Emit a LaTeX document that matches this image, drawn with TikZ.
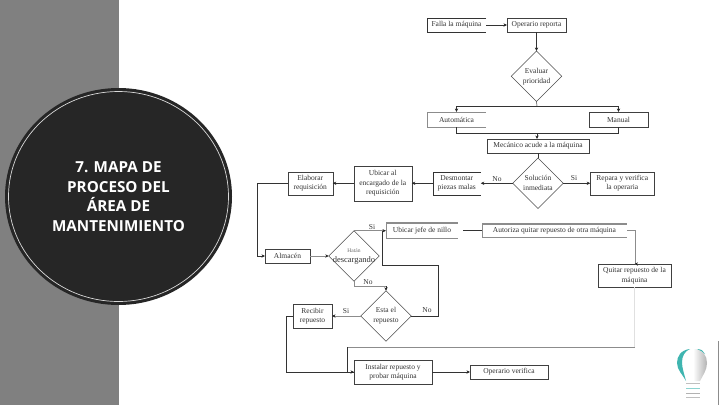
\documentclass[tikz,border=0pt]{standalone}
\usepackage{fontspec}
\setmainfont{Liberation Serif}
\newfontfamily\titlefont{Open Sans}
\usetikzlibrary{arrows.meta,shapes.geometric,positioning,calc}
\definecolor{bandgray}{HTML}{808080}
\definecolor{diskdark}{HTML}{262626}
\definecolor{linegray}{HTML}{8C8C8C}
\definecolor{bulbteal}{HTML}{3FB5B0}

\begin{document}
\begin{tikzpicture}[
    x=1pt, y=-1pt,
    box/.style={draw=black!75, minimum width=#1, align=center, font=\fontsize{7.5}{9.5}\selectfont,
                inner sep=1pt, outer sep=0pt, line width=0.5pt, text=black!80},
    box/.default=58pt,
    openbox/.style={box=#1, draw=none},
    choice/.style={diamond, draw=black!70, minimum width=50.5pt, minimum height=50.5pt, aspect=1,
                align=center, inner sep=0pt, outer sep=0pt, font=\fontsize{7.5}{10}\selectfont, line width=0.4pt, text=black!80},
    arr/.style={-{Stealth[length=3.5pt,width=3.2pt,color=black!85]}, black!80, line width=0.5pt},
    flat/.style={black!80, line width=0.5pt},
    faint/.style={linegray, line width=0.6pt},
    lbl/.style={font=\fontsize{7.5}{8}\selectfont, text=black!80, inner sep=0pt}
]
\useasboundingbox (0,0) rectangle (720,405);
\fill[white] (0,0) rectangle (720,405);
\fill[bandgray] (0,0) rectangle (119,405);

% disk with title
\node[ellipse, fill=diskdark, minimum width=227pt, minimum height=217pt, inner sep=0pt] (disk) at (118.5,196.5) {};
\node[ellipse, draw=white!85!black, line width=0.7pt, minimum width=220pt, minimum height=210pt, inner sep=0pt] (ring) at (118.5,196.5) {};
\node[align=center, text=white, font=\titlefont\bfseries\fontsize{15.2}{19.5}\selectfont] (title) at (118.5,196.5) {7. MAPA DE\\PROCESO DEL\\ÁREA DE\\MANTENIMIENTO};

% top of the flow
\node[openbox=59pt, minimum height=14pt] (falla) at (456.5,25) {Falla la máquina};
\node[box=59pt, minimum height=14pt, right=21pt of falla] (operario) {Operario reporta};
\node[choice, below=19pt of operario] (evaluar) {Evaluar\\prioridad};
\node[openbox=59pt, minimum height=15pt] (auto) at (456.5,119.5) {Automática};
\node[box=59pt, minimum height=15pt] (manual) at (618.5,119.5) {Manual};
\node[box=102pt, minimum height=14pt] (mecanico) at (538,146) {Mecánico acude a la máquina};
\node[choice, below=5pt of mecanico] (solucion) {Solución\\inmediata};

% middle row
\node[openbox=48pt, minimum height=23pt, left=32pt of solucion] (desmontar) {Desmontar\\piezas malas};
\node[box=64pt, minimum height=23pt, right=27pt of solucion] (repara) {Repara y verifica\\la operaria};
\node[box=58pt, minimum height=35pt, left=21pt of desmontar] (ubicar) {Ubicar al\\encargado de la\\requisición};
\node[box=45pt, minimum height=23pt, left=21pt of ubicar] (elaborar) {Elaborar\\requisición};

% lower part
\node[box=45pt, minimum height=14pt] (almacen) at (287.5,256) {Almacén};
\node[choice] (hatan) at (354,256) {};
\node[align=center, inner sep=0pt, text=black!80, font=\fontsize{8.5}{10}\selectfont] (hatantext) at (hatan) {{\fontsize{5.5}{7}\selectfont\color{black!60}Hatán}\\descargando};
\node[openbox=72pt, minimum height=15pt] (jefe) at (422,230.5) {Ubicar jefe de nillo};
\node[openbox=145pt, minimum height=13pt] (autoriza) at (554.5,230.5) {Autoriza quitar repuesto de otra máquina};
\node[box=73pt, minimum height=23pt] (quitar) at (634.5,275.5) {Quitar repuesto de la\\máquina};
\node[choice] (esta) at (386,316) {Esta el\\repuesto};
\node[box=39pt, minimum height=24pt] (recibir) at (312.5,316) {Recibir\\repuesto};
\node[box=78pt, minimum height=24pt] (instalar) at (393,372) {Instalar repuesto y\\probar máquina};
\node[box=78pt, minimum height=14pt, right=38pt of instalar] (verifica) {Operario verifica};

% boxes without a right side
\draw[flat] (falla.north east) -- (falla.north west) -- (falla.south west) -- (falla.south east);
\draw[flat] (desmontar.north east) -- (desmontar.north west) -- (desmontar.south west) -- (desmontar.south east);
\draw[faint] (auto.south east) -- (auto.south west) -- (auto.north west);
\draw[linegray, line width=1pt] (auto.north west) -- (auto.north east);
\foreach \nm in {jefe,autoriza} {
  \draw[faint] (\nm.north west) -- (\nm.south west) -- (\nm.south east);
  \draw[linegray, line width=1.3pt] (\nm.north west) -- (\nm.north east);
}

% labels
\node[lbl] (lbno) at (497,179) {No};
\node[lbl] (lbsi) at (574,178) {Si};
\node[lbl] (lbsib) at (372,227) {Si};
\node[lbl] (lbnob) at (368,282) {No};
\node[lbl] (lbsic) at (346,311) {Si};
\node[lbl] (lbnoc) at (427,310) {No};

% connectors
\coordinate (split) at (537,106);
\coordinate (merge) at (537,133);
\coordinate (joinjefe) at (382,231);
\coordinate (joinesta) at (386,286);
\coordinate (turn) at (635,347);
\coordinate (drop) at (347,347);
\draw[arr] (falla) -- (operario);
\draw[arr] (operario) -- (evaluar);
\draw[flat] (evaluar.south) -- (split);
\draw[arr] (split) -| (auto.north);
\draw[arr] (split) -| (manual.north);
\draw[flat] (auto.south) |- (merge);
\draw[flat] (manual.south) |- (merge);
\draw[arr] (merge) -- (mecanico.north -| merge);
\draw[flat] (mecanico) -- (solucion);
\draw[arr] (solucion) -- (desmontar);
\draw[arr] (solucion) -- (repara);
\draw[arr] (desmontar) -- (ubicar);
\draw[arr] (ubicar) -- (elaborar);
\draw[arr] (elaborar.west) -- ++(-31,0) |- (almacen.west);
\draw[arr, linegray] (almacen) -- (hatan);
\draw[arr, line width=1.1pt, linegray] (hatan.north) -- (hatan.north -| jefe.west);
\draw[flat, line width=1pt, linegray] (hatan.south) |- (joinesta);
\draw[arr] (joinesta) -- (esta.north);
\draw[flat] (esta.east) -- ++(27,0) |- (382,265) -- (joinjefe);
\draw[arr, linegray] (esta) -- (recibir);
\draw[flat] (recibir.west) -- ++(-7,0) |- (instalar.west);
\draw[flat, shorten <=5pt] (jefe) -- (autoriza);
\draw[arr, linegray] (autoriza.east) -- ++(8,0) |- (quitar.north);
\draw[black!12, line width=0.8pt] (quitar.south) -- (quitar.south |- turn);
\draw[faint, line width=0.8pt] (turn) -- (drop);
\draw[arr] (drop) |- (instalar.west);
\draw[arr] (instalar) -- (verifica);

% bulb
\fill[bulbteal] (690,349) .. controls (681,350) and (677,356) .. (677,363) .. controls (677,370) and (683,375) .. (686,381)
  .. controls (684,373) and (682,368) .. (682,362) .. controls (682,356) and (685,351) .. (690,349) -- cycle;
\shade[left color=white, right color=black!30] (694,349) .. controls (703,349) and (707,356) .. (707,363) .. controls (707,370) and (703,375) .. (700,381) -- (693,381) -- cycle;
\fill[bulbteal] (697,349) .. controls (701,349) and (704,351) .. (705,354) .. controls (703,352) and (700,350) .. (697,349) -- cycle;
\foreach \yy/\shadecol in {383/black!25,388/bulbteal!60,393/black!30,397/black!25}
  \draw[\shadecol, line width=0.9pt] (686,\yy) -- (700,\yy);
\draw[linegray, line width=1pt] (718.5,341) -- (718.5,405);
\end{tikzpicture}
\end{document}
